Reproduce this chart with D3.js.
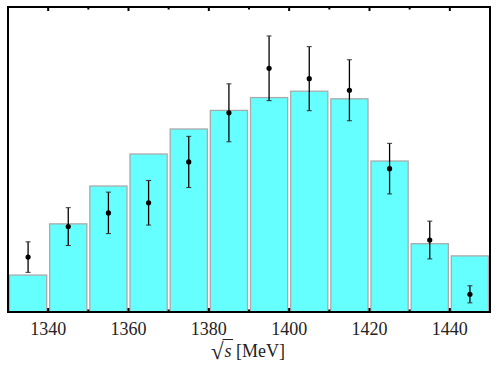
<!DOCTYPE html>
<html>
<head>
<meta charset="utf-8">
<script src="https://cdn.jsdelivr.net/npm/d3@7"></script>
<style>
body { margin: 0; background: #fff; }
text { font-family: "Liberation Serif", "DejaVu Serif", serif; }
</style>
</head>
<body>
<div id="chart"></div>
<script>
// bin centres (MeV)
var bins = [1335, 1345, 1355, 1365, 1375, 1385, 1395, 1405, 1415, 1425, 1435, 1445];
// histogram (model) heights
var model = [12.1, 28.9, 41.3, 51.8, 60.0, 66.1, 70.3, 72.4, 69.9, 49.5, 22.4, 18.4];
// data points and errors
var dataY = [18.0, 28.0, 32.5, 35.8, 49.2, 65.3, 79.9, 76.5, 72.7, 47.0, 23.6, 5.8];
var dataErr = [5.0, 6.2, 6.8, 7.3, 8.4, 9.5, 10.6, 10.5, 10.0, 8.3, 6.2, 2.8];
var majorTicks = [1340, 1360, 1380, 1400, 1420, 1440];
var minorTicks = [1350, 1370, 1390, 1410, 1430];

var width = 498, height = 374;
var pl = 8, pr = 490, pt = 7, pb = 312;

var svg = d3.select("#chart")
    .append("svg")
    .attr("width", width)
    .attr("height", height);

var x = d3.scaleLinear().domain([1330, 1450]).range([pl, pr]);
var y = d3.scaleLinear().domain([0, 100]).range([pb, pt]);
var binW = 10;

// bars
svg.selectAll(".bar")
    .data(bins)
    .enter()
    .append("rect")
    .attr("class", "bar")
    .attr("x", function(d) {return x(d - binW / 2) + 1.5;})
    .attr("y", function(d, i) {return y(model[i]);})
    .attr("width", function(d) {return x(d + binW / 2) - x(d - binW / 2) - 3;})
    .attr("height", function(d, i) {return pb - y(model[i]);})
    .attr("fill", "#66ffff")
    .attr("stroke", "#aaaaaa")
    .attr("stroke-width", 1.3);

// error bars
svg.selectAll(".err")
    .data(bins)
    .enter()
    .append("line")
    .attr("x1", function(d) {return x(d);})
    .attr("x2", function(d) {return x(d);})
    .attr("y1", function(d, i) {return y(dataY[i] + dataErr[i]);})
    .attr("y2", function(d, i) {return y(dataY[i] - dataErr[i]);})
    .attr("stroke", "#000")
    .attr("stroke-width", 1.3);

[1, -1].forEach(function(s) {
    svg.selectAll(".cap" + s)
        .data(bins)
        .enter()
        .append("line")
        .attr("x1", function(d) {return x(d) - 2.5;})
        .attr("x2", function(d) {return x(d) + 2.5;})
        .attr("y1", function(d, i) {return y(dataY[i] + s * dataErr[i]);})
        .attr("y2", function(d, i) {return y(dataY[i] + s * dataErr[i]);})
        .attr("stroke", "#333")
        .attr("stroke-width", 1);
});

svg.selectAll(".pt")
    .data(bins)
    .enter()
    .append("circle")
    .attr("cx", function(d) {return x(d);})
    .attr("cy", function(d, i) {return y(dataY[i]);})
    .attr("r", 2.6)
    .attr("fill", "#000");

// ticks (inward, top and bottom)
function ticks(vals, len) {
    svg.selectAll(null)
        .data(vals)
        .enter()
        .append("line")
        .attr("x1", function(d) {return x(d);})
        .attr("x2", function(d) {return x(d);})
        .attr("y1", pb)
        .attr("y2", pb - len)
        .attr("stroke", "#000")
        .attr("stroke-width", 2);
    svg.selectAll(null)
        .data(vals)
        .enter()
        .append("line")
        .attr("x1", function(d) {return x(d);})
        .attr("x2", function(d) {return x(d);})
        .attr("y1", pt)
        .attr("y2", pt + len)
        .attr("stroke", "#000")
        .attr("stroke-width", 2);
}
ticks(majorTicks, 4);
ticks(minorTicks, 2.5);

// frame
svg.append("rect")
    .attr("x", pl)
    .attr("y", pt)
    .attr("width", pr - pl)
    .attr("height", pb - pt)
    .attr("fill", "none")
    .attr("stroke", "#000")
    .attr("stroke-width", 2);

// tick labels
svg.selectAll(".tl")
    .data(majorTicks)
    .enter()
    .append("text")
    .attr("x", function(d) {return x(d);})
    .attr("y", 335)
    .attr("text-anchor", "middle")
    .style("font-size", "18px")
    .style("fill", "#222")
    .text(function(d) {return d;});

// axis title
var title = svg.append("text")
    .attr("x", 248)
    .attr("y", 357)
    .attr("text-anchor", "middle")
    .style("font-size", "18px")
    .style("fill", "#222");
title.append("tspan").style("font-size", "23px").attr("dy", 2).text("\u221A");
title.append("tspan").style("font-style", "italic").attr("dx", 1).attr("dy", -2).text("s");
title.append("tspan").text(" [MeV]");

// overline of the radical
var tn = title.node();
var r0 = tn.getEndPositionOfChar(0);
var s1 = tn.getEndPositionOfChar(1);
svg.append("line")
    .attr("x1", r0.x - 1)
    .attr("x2", s1.x + 1.5)
    .attr("y1", 339.5)
    .attr("y2", 339.5)
    .attr("stroke", "#222")
    .attr("stroke-width", 1);
</script>
</body>
</html>
